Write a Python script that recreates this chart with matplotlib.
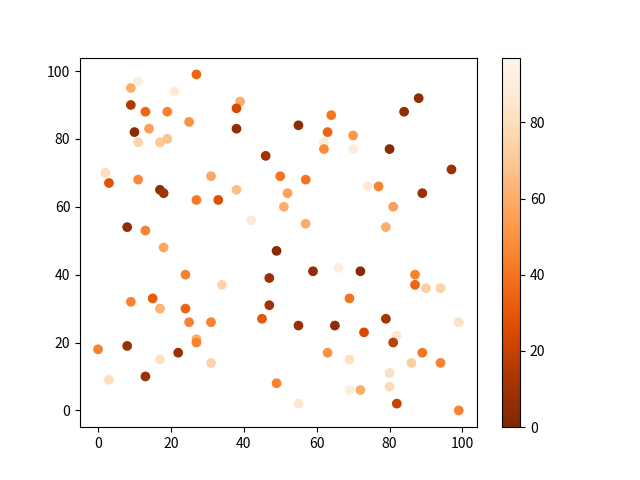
import numpy as np
import matplotlib
matplotlib.use('Agg')
import matplotlib.pyplot as plt

plt.rcParams['font.family'] = ['Noto Sans CJK SC', 'DejaVu Sans']

# --- Data ---
x = [0, 3, 2, 3, 8, 8, 11, 9, 9, 10,
     13, 14, 11, 11, 9, 13, 13, 15, 17, 17,
     17, 18, 17, 19, 19, 18, 21, 22, 24, 24,
     25, 25, 27, 27, 27, 27, 31, 31, 31, 33,
     34, 39, 38, 38, 38, 42, 46, 45, 47, 47,
     49, 49, 50, 52, 51, 55, 55, 55, 57, 57,
     59, 62, 62, 63, 64, 63, 65, 66, 69, 69,
     69, 70, 70, 72, 72, 73, 74, 77, 79, 79,
     80, 80, 80, 81, 82, 81, 82, 84, 86, 87,
     87, 88, 89, 89, 90, 94, 94, 97, 99, 99]
y = [18, 9, 70, 67, 54, 19, 97, 95, 90, 82,
     88, 83, 79, 68, 32, 53, 10, 33, 30, 15,
     65, 64, 79, 80, 88, 48, 94, 17, 40, 30,
     26, 85, 99, 62, 21, 20, 69, 26, 14, 62,
     37, 91, 89, 83, 65, 56, 75, 27, 39, 31,
     47, 8, 69, 64, 60, 84, 25, 2, 68, 55,
     41, 79, 77, 82, 87, 17, 25, 42, 33, 15,
     6, 81, 77, 41, 6, 23, 66, 66, 27, 54,
     77, 11, 7, 60, 22, 20, 2, 88, 14, 40,
     37, 92, 64, 17, 36, 36, 14, 71, 26, 0]
c = [45, 80, 80, 28, 5, 8, 90, 60, 15, 3,
     35, 55, 75, 47, 45, 45, 8, 32, 62, 80,
     5, 10, 70, 68, 45, 58, 88, 8, 45, 35,
     45, 50, 35, 42, 60, 45, 58, 45, 75, 27,
     75, 60, 25, 5, 66, 88, 10, 30, 8, 10,
     3, 45, 40, 55, 60, 5, 8, 85, 40, 60,
     5, 88, 47, 35, 40, 50, 5, 90, 40, 82,
     90, 52, 90, 3, 60, 25, 88, 45, 12, 60,
     3, 82, 78, 55, 85, 18, 20, 5, 72, 45,
     35, 5, 8, 40, 72, 75, 45, 8, 82, 45]

fig, ax = plt.subplots(figsize=(6.4, 4.8), dpi=100)
sc = ax.scatter(x, y, c=c, cmap='Oranges_r', vmin=0, vmax=97)
fig.colorbar(sc, ax=ax)

fig.savefig('out.png')
